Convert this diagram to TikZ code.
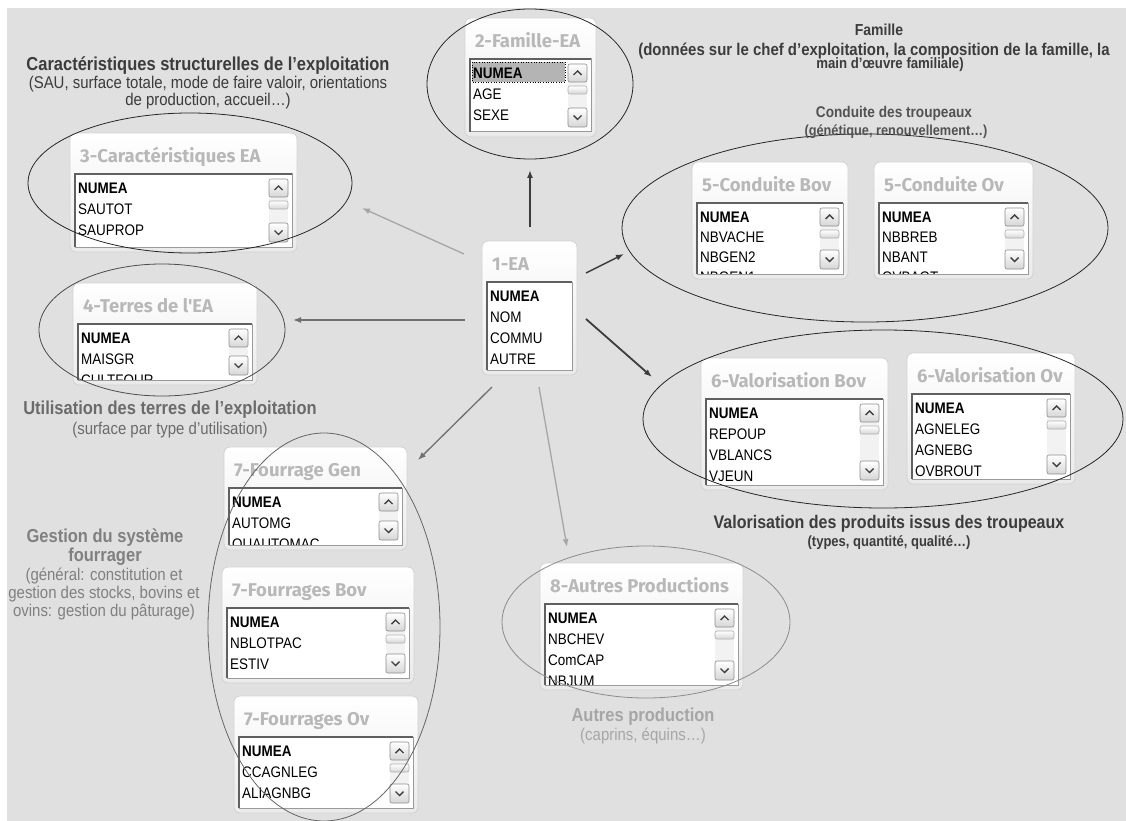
\documentclass[tikz,border=0pt]{standalone}
\usepackage{fontspec}
\setmainfont{Liberation Sans}[FakeStretch=0.88]
\newfontfamily\titlefont{Fira Sans}
\usetikzlibrary{arrows.meta,shapes.geometric}
\definecolor{bgc}{HTML}{E0E0E0}
\definecolor{framec}{HTML}{D2D2D2}
\definecolor{framebot}{HTML}{EAEAEA}
\definecolor{titlec}{HTML}{B8B8B8}
\definecolor{listc}{HTML}{9A9A9A}
\definecolor{listdk}{HTML}{606060}
\definecolor{btnc}{HTML}{8C8C8C}
\definecolor{btnbot}{HTML}{D6D6D6}
\definecolor{trackc}{HTML}{F2F2F2}
\definecolor{hlc}{HTML}{B4B4B4}
\definecolor{dk}{HTML}{3C3C3C}
\definecolor{md}{HTML}{707070}
\definecolor{lt}{HTML}{A6A6A6}
\newcommand\isep{21}
\tikzset{
 wframe/.style={draw=framec, line width=0.8pt, rounded corners=6pt, top color=white, bottom color=framebot},
 wtitle/.style={font=\titlefont\bfseries\fontsize{18.5}{18.5}\selectfont, text=titlec, anchor=base west, inner sep=0pt},
 wlist/.style={fill=white, draw=listc, line width=1pt},
 wlistdk/.style={draw=listdk, line width=1.6pt},
 witem/.style={font=\fontsize{15.3}{15.3}\selectfont, anchor=base west, inner sep=0pt, text=black},
 strack/.style={fill=trackc},
 sbtn/.style={draw=btnc, line width=0.6pt, rounded corners=2pt, top color=white, bottom color=btnbot},
 sthumb/.style={draw=btnc!70, line width=0.6pt, rounded corners=2pt, top color=white, bottom color=btnbot},
 chev/.style={draw=black!75, line width=1.4pt},
 ell/.style={ellipse, draw, inner sep=0pt, line width=0.8pt},
 arr/.style={-{Latex[length=8pt,width=6pt]}, line width=1.4pt},
 fb/.style={anchor=base, inner sep=0pt, font=\bfseries\fontsize{#1}{#1}\selectfont},
 fr/.style={anchor=base, inner sep=0pt, font=\fontsize{#1}{#1}\selectfont},
}
% #1 name #2 x1 #3 y1 #4 x2 #5 y2 #6 title #7 scroll type #8 items #9 hook
\newcommand\win[9]{%
 \path[wframe] (#2,#3) rectangle (#4,#5);
 \node[wtitle] (#1-t) at (#2+10,#3+29.5) {#6};
 \pgfmathsetmacro\lxa{#2+5}\pgfmathsetmacro\lya{#3+41}%
 \pgfmathsetmacro\lxb{#4-5}\pgfmathsetmacro\lyb{#5-5}%
 \path[wlist] (\lxa,\lya) rectangle (\lxb,\lyb);
 \draw[wlistdk] (\lxa,\lyb) -- (\lxa,\lya) -- (\lxb,\lya);
 \pgfmathsetmacro\bxa{\lxb-23}\pgfmathsetmacro\bxb{\lxb-4}\pgfmathsetmacro\bcx{\lxb-13.5}%
 \ifnum#7>0
  \fill[strack] (\bxa,\lya+5) rectangle (\bxb,\lyb-5);
  \path[sbtn] (\bxa,\lya+5) rectangle (\bxb,\lya+23);
  \draw[chev] (\bcx-4,\lya+16) -- (\bcx,\lya+12) -- (\bcx+4,\lya+16);
  \path[sbtn] (\bxa,\lyb-24) rectangle (\bxb,\lyb-5);
  \draw[chev] (\bcx-4,\lyb-16.5) -- (\bcx,\lyb-12.5) -- (\bcx+4,\lyb-16.5);
 \fi
 \ifnum#7>1
  \path[sthumb] (\bxa,\lya+27) rectangle (\bxb,\lya+35);
 \fi
 #9%
 \begin{scope}
  \clip (\lxa+0.8,\lya+0.8) rectangle (\lxb-0.5,\lyb-0.5);
  \foreach \t [count=\i] in {#8} {
   \node[witem] (#1-\i) at (\lxa+3,\lya+19.5+\i*\isep-\isep) {\ifnum\i=1\bfseries\fi\t};
  }
 \end{scope}
}
\begin{document}
\begin{tikzpicture}[x=1pt,y=-1pt]
\useasboundingbox (0,0) rectangle (1126,821);
\fill[bgc] (7,8) rectangle (1126,821);

% windows
\win{b1}{482}{241}{577}{375}{1-EA}{0}{NUMEA,NOM,COMMU,AUTRE}{}
\win{b2}{465}{18}{596}{137}{2-Famille-EA}{2}{NUMEA,AGE,SEXE}{%
 \fill[hlc] (472,62) rectangle (565,82);
 \draw[black, dotted, line width=0.6pt] (472,62) rectangle (565,82);}
\win{b3}{70}{133}{297}{252}{3-Caractéristiques EA}{2}{NUMEA,SAUTOT,SAUPROP}{}
\win{b4}{73}{283}{257}{385}{4-Terres de l'EA}{1}{NUMEA,MAISGR,CULTFOUR}{}
\renewcommand\isep{20}
\win{b5a}{692}{162}{848}{279}{5-Conduite Bov}{2}{NUMEA,NBVACHE,NBGEN2,NBGEN1}{}
\win{b5b}{874}{162}{1033}{279}{5-Conduite Ov}{2}{NUMEA,NBBREB,NBANT,OVBAGT}{}
\renewcommand\isep{21}
\win{b6a}{701}{358}{888}{490}{6-Valorisation Bov}{2}{NUMEA,REPOUP,VBLANCS,VJEUN}{}
\win{b6b}{907}{353}{1075}{484}{6-Valorisation Ov}{2}{NUMEA,AGNELEG,AGNEBG,OVBROUT}{}
\win{b7a}{224}{447}{407}{550}{7-Fourrage Gen}{1}{NUMEA,AUTOMG,QUAUTOMAC}{}
\win{b7b}{222}{567}{414}{683}{7-Fourrages Bov}{2}{NUMEA,NBLOTPAC,ESTIV}{}
\win{b7c}{234}{696}{418}{813}{7-Fourrages Ov}{2}{NUMEA,CCAGNLEG,ALIAGNBG}{}
\win{b8}{540}{563}{743}{690}{8-Autres Productions}{2}{NUMEA,NBCHEV,ComCAP,NBJUM}{}

% ellipses
\node[ell, draw=black!85, minimum width=206pt, minimum height=150pt] (e2) at (530,84) {};
\node[ell, draw=black!85, minimum width=324pt, minimum height=140pt] (e3) at (190,183) {};
\node[ell, draw=black!70, minimum width=246pt, minimum height=132pt] (e4) at (162,330) {};
\node[ell, draw=black!85, minimum width=486pt, minimum height=188pt] (e5) at (865,228) {};
\node[ell, draw=black!85, minimum width=480pt, minimum height=178pt] (e6) at (883,419) {};
\node[ell, draw=black!60, minimum width=232pt, minimum height=388pt] (e7) at (324,627) {};
\node[ell, draw=black!45, minimum width=288pt, minimum height=152pt] (e8) at (646,622) {};

% arrows
\coordinate (s2) at (530,227); \coordinate (t2) at (530,170);
\coordinate (s3) at (464,254); \coordinate (t3) at (362,208);
\coordinate (s4) at (465,320); \coordinate (t4) at (293,320);
\coordinate (s5) at (586,273); \coordinate (t5) at (624,254);
\coordinate (s6) at (586,319); \coordinate (t6) at (652,377);
\coordinate (s7) at (492,387); \coordinate (t7) at (418,460);
\coordinate (s8) at (539,387); \coordinate (t8) at (567,547);
\draw[arr, draw=dk, line width=1.7pt] (s2) -- (t2);
\draw[arr, draw=lt, line width=1.3pt] (s3) -- (t3);
\draw[arr, draw=md, line width=1.3pt] (s4) -- (t4);
\draw[arr, draw=dk, line width=1.5pt] (s5) -- (t5);
\draw[arr, draw=dk, line width=1.8pt] (s6) -- (t6);
\draw[arr, draw=md, line width=1.3pt] (s7) -- (t7);
\draw[arr, draw=lt, line width=1.3pt] (s8) -- (t8);

% labels
\node[fb=18.75, text=dk] (l3a) at (208,70.7) {Caractéristiques structurelles de l’exploitation};
\node[fr=17, text=dk] (l3b) at (208,89) {(SAU, surface totale, mode de faire valoir, orientations};
\node[fr=17, text=dk] (l3c) at (208,106) {de production, accueil…)};

\node[fb=15.9, text=dk] (l2a) at (879,35.7) {Famille};
\node[fb=17, text=dk] (l2b) at (874,55.1) {(données sur le chef d’exploitation, la composition de la famille, la};
\node[fb=15, text=dk] (l2c) at (890,69) {main d’œuvre familiale)};

\node[fb=15.5, text=black!68] (l5a) at (894,117.5) {Conduite des troupeaux};
\node[fb=14.5, text=black!68] (l5b) at (896,135.2) {(génétique, renouvellement…)};

\node[fb=18.75, text=black!58] (l4a) at (170,414.7) {Utilisation des terres de l’exploitation};
\node[fr=17, text=black!58] (l4b) at (170,434.1) {(surface par type d’utilisation)};

\node[fb=18.2, text=dk] (l6a) at (889,528.5) {Valorisation des produits issus des troupeaux};
\node[fb=14.8, text=dk] (l6b) at (889,546.3) {(types, quantité, qualité…)};

\node[fb=18.75, text=black!50] (l7a) at (105,542.7) {Gestion du système};
\node[fb=18.75, text=black!50] (l7b) at (105,561.7) {fourrager};
\node[fr=17, text=black!50] (l7c) at (104,580.1) {(général: constitution et};
\node[fr=17, text=black!50] (l7d) at (104,598.1) {gestion des stocks, bovins et};
\node[fr=17, text=black!50] (l7e) at (104,616.1) {ovins: gestion du pâturage)};

\node[fb=18.75, text=lt] (l8a) at (643,721.7) {Autres production};
\node[fr=17, text=lt] (l8b) at (643,740.1) {(caprins, équins…)};
\end{tikzpicture}
\end{document}
